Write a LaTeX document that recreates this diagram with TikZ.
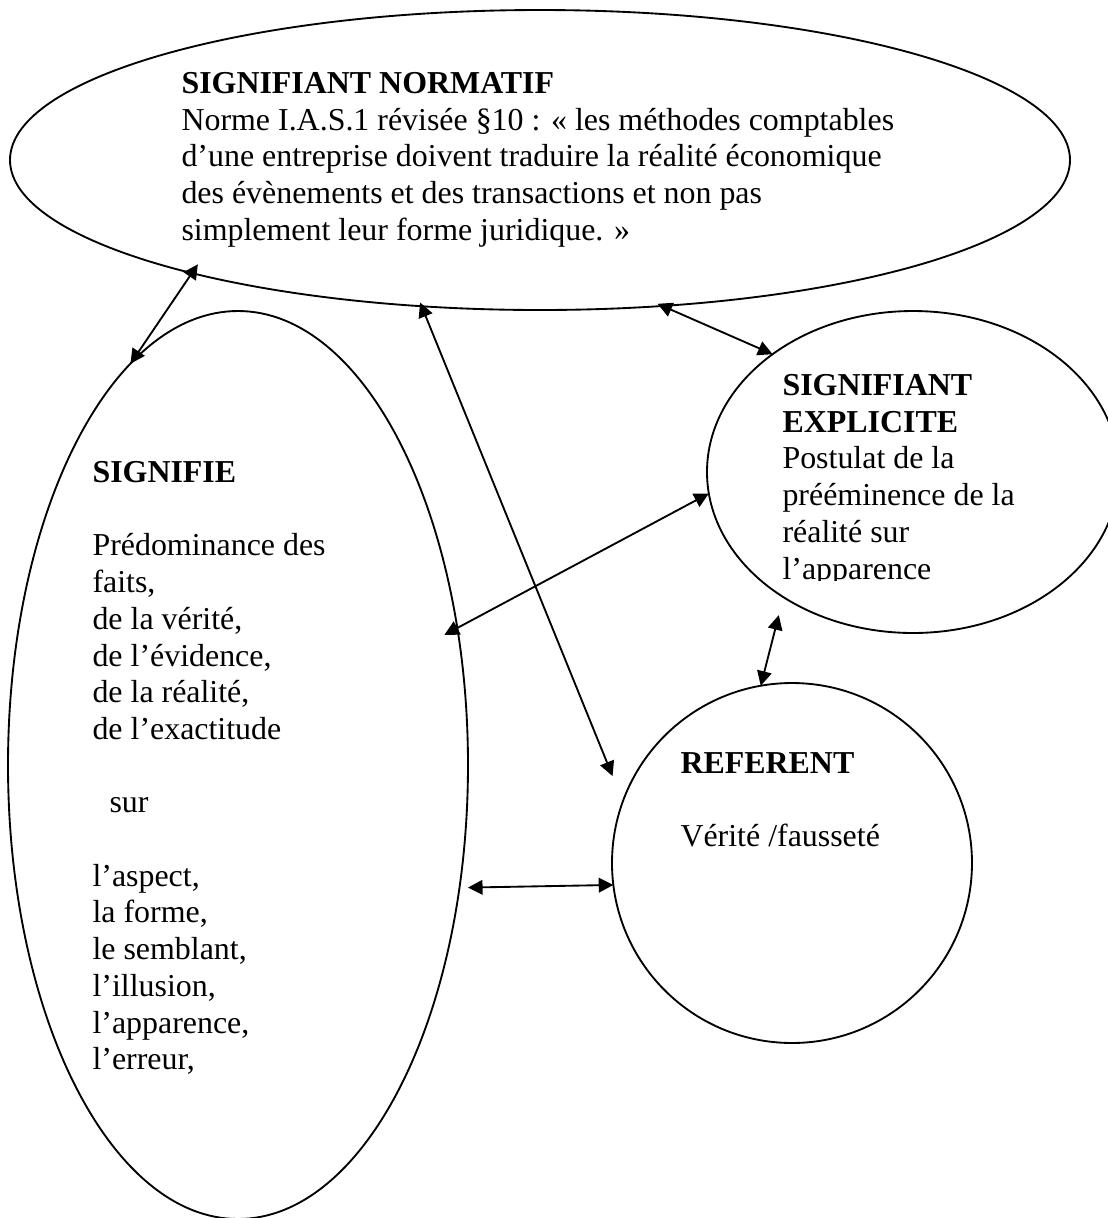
\documentclass[tikz,border=0pt]{standalone}
\usepackage{fontspec}
\setmainfont{Liberation Serif}
\usepackage{tikz}
\usetikzlibrary{shapes.geometric,arrows.meta}

\begin{document}
\begin{tikzpicture}[
  x=0.376pt, y=-0.376pt,
  oval/.style={draw, ellipse, line width=0.7pt, inner sep=0pt, outer sep=0pt},
  txt/.style={anchor=north west, align=left, inner sep=0pt, font=\fontsize{12}{13.8}\selectfont},
  dbl/.style={{Triangle[length=5.5pt,width=5.5pt]}-{Triangle[length=5.5pt,width=5.5pt]}, line width=0.7pt}
]
\useasboundingbox (0,0) rectangle (1108,1218);
\node[oval, minimum width=398.56pt, minimum height=112.8pt] (norm) at (540,160) {};
\node[oval, minimum width=172.96pt, minimum height=341.41pt] (sig) at (238,765) {};
\node[oval, minimum width=154.91pt, minimum height=121.07pt] (expl) at (913,472) {};
\node[oval, circle, minimum size=135.36pt] (ref) at (792,863) {};
\node[txt] (normtxt) at (181,67.3) {\strut\textbf{SIGNIFIANT NORMATIF}\\
  Norme I.A.S.1 révisée §10 : « les méthodes comptables\\
  d’une entreprise doivent traduire la réalité économique\\
  des évènements et des transactions et non pas\\
  simplement leur forme juridique. »};
\node[txt] (sigtxt) at (92,456.3) {\strut\textbf{SIGNIFIE}\\ ~\\
  Prédominance des\\ faits,\\ de la vérité,\\ de l’évidence,\\ de la réalité,\\ de l’exactitude\\ ~\\
  \hspace*{6.4pt}sur\\ ~\\
  l’aspect,\\ la forme,\\ le semblant,\\ l’illusion,\\ l’apparence,\\ l’erreur,};
\begin{scope}
  \clip (700,300) rectangle (1108,580);
  \node[txt] (expltxt) at (782,369.3) {\strut\textbf{SIGNIFIANT}\\ \textbf{EXPLICITE}\\
    Postulat de la\\ prééminence de la\\ réalité sur\\ l’apparence};
\end{scope}
\node[txt] (reftxt) at (680,747.3) {\strut\textbf{REFERENT}\\ ~\\ Vérité /fausseté};
\draw[dbl, shorten <=-4pt] (norm.198) -- (sig.105);
\draw[dbl, shorten <=-1.5pt, shorten >=10.3pt] (norm.231) -- (ref.160.6);
\draw[dbl, shorten <=-2pt] (norm.310.6) -- (expl.140.6);
\draw[dbl, shorten <=-5.5pt] (sig.32.3) -- (expl.186.1);
\draw[dbl, shorten <=7pt] (expl.224) -- (ref.100);
\draw[dbl, shorten <=3.2pt] (sig.331) -- (ref.187.7);
\end{tikzpicture}
\end{document}
